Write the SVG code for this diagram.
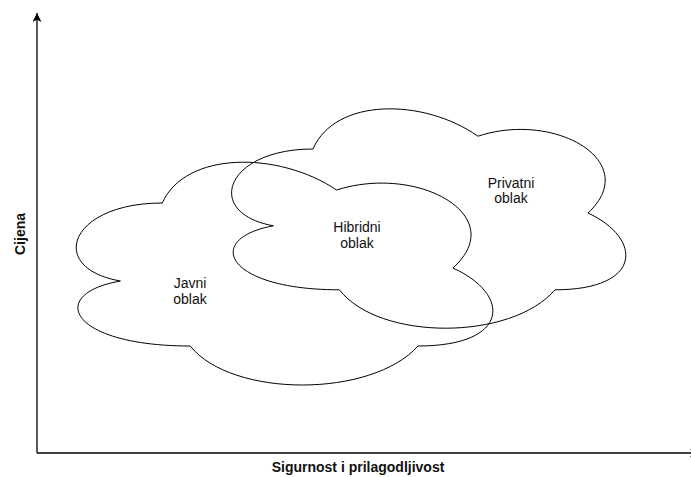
<svg xmlns="http://www.w3.org/2000/svg" width="691" height="477" viewBox="0 0 691 477">
  <style>
    .cloud { fill: none; stroke: #000; stroke-width: 1; }
    .lbl { font-family: "Liberation Sans", Arial, Helvetica, sans-serif; font-size: 14px; fill: #111; text-anchor: middle; }
    .axis-lbl { font-weight: bold; }
    .axis { stroke: #000; stroke-width: 1.3; fill: none; }
  </style>
  <defs>
    <marker id="arrow" viewBox="0 0 10 10" refX="10" refY="5" markerUnits="userSpaceOnUse" markerWidth="9" markerHeight="9" orient="auto">
      <path d="M0,0 L10,5 L0,10 L2.5,5 Z" fill="#000"/>
    </marker>
  </defs>
  <rect width="691" height="477" fill="#fff"/>

  <g id="connectors">
    <path class="axis" d="M37,453 L37,13" marker-end="url(#arrow)"/>
    <path class="axis" d="M37,453 L699,453" marker-end="url(#arrow)"/>
  </g>

  <g id="javni-oblak">
    <path class="cloud" d="M162.25,203 C69.25,203 46,268 120.4,281 C46,294 69.25,346 190.15,346 C232,398 371.5,398 418,346 C511,346 511,294 452.875,268 C511,216 418,164 336.6,190 C278.5,151 185.5,151 162.25,203 Z"/>
    <text class="lbl" x="190" y="287.5">Javni</text>
    <text class="lbl" x="190" y="303.5">oblak</text>
  </g>

  <g id="privatni-oblak">
    <path class="cloud" d="M313,149 C225,149 203,213 273.4,225.8 C203,238.6 225,289.8 339.4,289.8 C379,341 511,341 555,289.8 C643,289.8 643,238.6 588,213 C643,161.8 555,110.6 478,136.2 C423,97.8 335,97.8 313,149 Z"/>
    <text class="lbl" x="511" y="187.8">Privatni</text>
    <text class="lbl" x="511" y="203.3">oblak</text>
  </g>

  <g id="hibridni-oblak">
    <text class="lbl" x="357" y="231.7">Hibridni</text>
    <text class="lbl" x="357" y="247.5">oblak</text>
  </g>

  <g id="x-axis-label">
    <text class="lbl axis-lbl" x="358" y="471.7">Sigurnost i prilagodljivost</text>
  </g>
  <g id="y-axis-label">
    <text class="lbl axis-lbl" transform="translate(25,234) rotate(-90)">Cijena</text>
  </g>
</svg>
